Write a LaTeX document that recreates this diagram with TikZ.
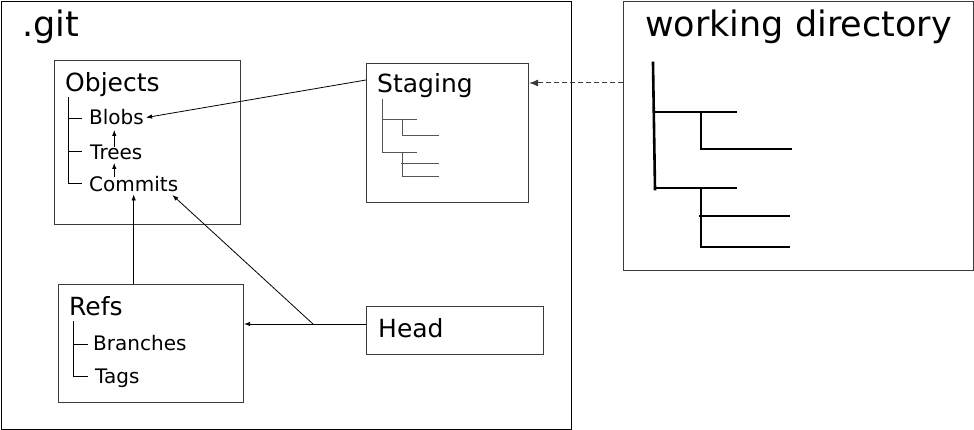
\documentclass[tikz,border=0pt]{standalone}
\usepackage{fontspec}
\setmainfont{DejaVu Sans}
\usetikzlibrary{arrows.meta,calc}

\definecolor{boxgray}{HTML}{3A3A3A}
\definecolor{treegray}{HTML}{555555}

\tikzset{
  box/.style={draw=boxgray, line width=1.1pt, anchor=north west, inner sep=0pt},
  bigtext/.style={anchor=base west, inner sep=0pt, font=\fontsize{35}{42}\selectfont},
  title/.style={anchor=base west, inner sep=0pt, font=\fontsize{25}{30}\selectfont},
  entry/.style={anchor=base west, inner sep=2pt, font=\fontsize{20}{24}\selectfont},
  link/.style={line width=0.8pt, -{Latex[length=6pt,width=4.5pt]}},
  smalltree/.style={line width=1pt, draw=treegray},
  wdtree/.style={line width=2.6pt, line cap=rect}
}

\begin{document}
\begin{tikzpicture}[x=1pt,y=-1pt]
    \useasboundingbox (0,0) rectangle (974,430);

    % .git
    \node[box, draw=black, line width=1.5pt, minimum width=570pt, minimum height=428pt] (git) at (0.75,0.75) {};
    \node[bigtext] (gittitle) at (22,37) {.git};

    % objects
    \node[box, minimum width=186pt, minimum height=164pt] (objects) at (54,60) {};
    \node[title] (objtitle) at (65,92) {Objects};
    \node[entry] (blobs) at (87,125) {Blobs};
    \node[entry] (trees) at (88,160) {Trees};
    \node[entry] (commits) at (87,192) {Commits};
    \draw[line width=1pt] (68,97) |- (82,184);
    \draw[line width=1pt] (68,119) -- (82,119);
    \draw[line width=1pt] (68,152) -- (82,152);
    \draw[link] ($(trees.base)+(-2,-13)$) -- ($(blobs.base -| trees.base)+(-2,5)$);
    \draw[link] ($(commits.base -| trees.base)+(-2,-15)$) -- ($(trees.base)+(-2,3)$);

    % staging
    \node[box, minimum width=162pt, minimum height=139pt] (staging) at (366,63) {};
    \node[title] (stagetitle) at (377,93) {Staging};
    \draw[smalltree] (382,99) |- (417,153);
    \draw[smalltree] (382,120) -- (417,120);
    \draw[smalltree] (402,120) |- (439,136);
    \draw[smalltree] (402,153) |- (439,177);
    \draw[smalltree] (401,164) -- (439,164);

    % working directory
    \node[box, minimum width=350pt, minimum height=269pt] (workdir) at (623,1) {};
    \node[bigtext] (wdtitle) at (645,37) {working directory};
    \draw[wdtree] (653,63) -- (655,189);
    \draw[wdtree] (655,112) -- (736,112);
    \draw[wdtree] (701,112) |- (791,149);
    \draw[wdtree] (655,188) -- (736,188);
    \draw[wdtree] (701,188) |- (789,247);
    \draw[wdtree] (700,216) -- (789,216);

    % refs
    \node[box, minimum width=185pt, minimum height=118pt] (refs) at (58,284) {};
    \node[title] (refstitle) at (69,315) {Refs};
    \node[entry] (branches) at (91,350) {Branches};
    \node[entry] (tags) at (93,383) {Tags};
    \draw[line width=1pt] (73,321) |- (88,376);
    \draw[line width=1pt] (73,344) -- (88,344);

    % head
    \node[box, minimum width=177pt, minimum height=48pt] (head) at (366,306) {};
    \node[title] (headtitle) at (378,337) {Head};

    % connections
    \draw[link] ($(staging.north west)+(0,17)$) -- (blobs.east);
    \draw[line width=1pt, draw=boxgray, dash pattern=on 5pt off 3pt, -{Latex[length=9pt,width=7pt]}]
        ($(workdir.west |- staging.north)+(0,20)$) -- ($(staging.north east)+(0,20)$);
    \draw[link] (commits.south |- refs.north) -- (commits.south);
    \coordinate (fork) at (313,324);
    \draw[line width=0.8pt] (head.west |- fork) -- (fork);
    \draw[link] (fork) -- (refs.east |- fork);
    \draw[link] (fork) -- ($(commits.base east)+(-8,3)$);
\end{tikzpicture}
\end{document}
